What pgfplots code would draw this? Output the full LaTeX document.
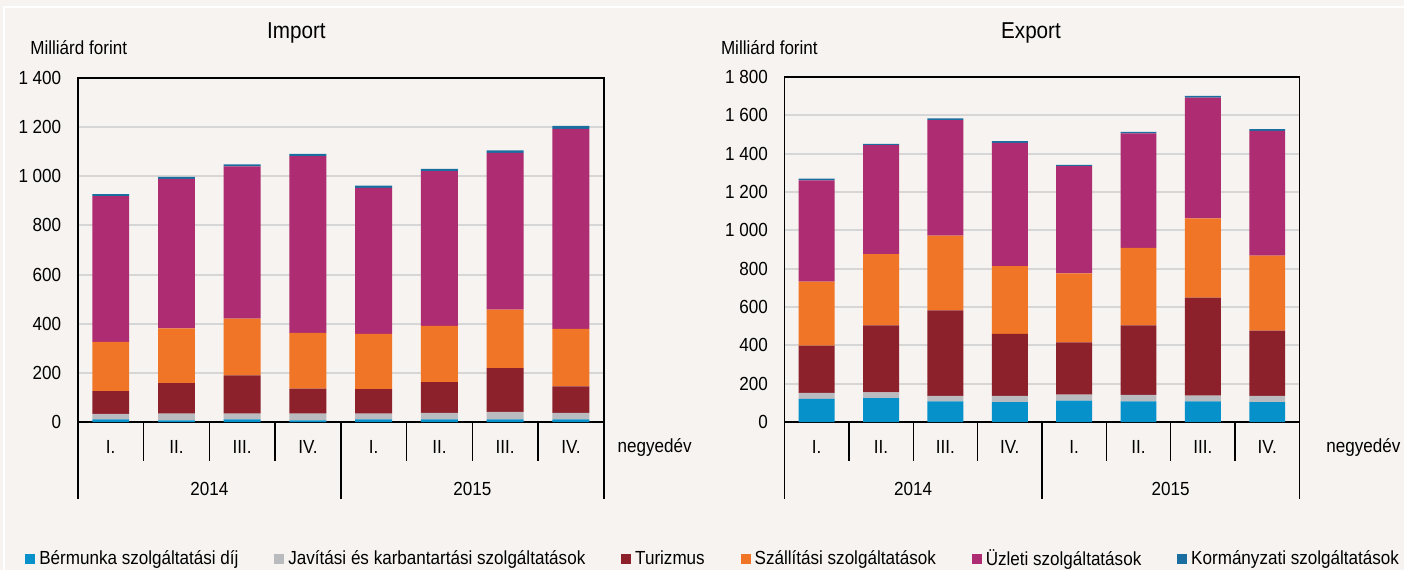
\documentclass[border=0pt]{standalone}
\usepackage{pgfplots}
\pgfplotsset{compat=1.18}
\usepackage{pgfplotstable}
\usepackage{fontspec}
\setmainfont{Liberation Sans}[FakeStretch=0.9]
\newcommand\lf{\fontsize{9.5}{11}\selectfont}
\definecolor{bgc}{HTML}{F6F3F0}
\definecolor{cberm}{HTML}{0791CA}
\definecolor{cjav}{HTML}{B9BBBE}
\definecolor{ctur}{HTML}{8C212C}
\definecolor{cszal}{HTML}{F07526}
\definecolor{cuzl}{HTML}{AE2C71}
\definecolor{ckorm}{HTML}{1B6FA0}
\definecolor{gridc}{HTML}{D6D6D6}

\pgfplotstableread{
x berm jav tur szal uzl korm
1 11 23 92 201 592 8
2 7 28 124 222 608 8
3 11 24 155 231 619 8
4 7 28 101 227 719 9
5 11 24 99 225 594 9
6 11 27 125 229 629 9
7 11 31 178 238 637 10
8 11 27 108 233 814 12
}\importdata

\pgfplotstableread{
x berm jav tur szal uzl korm
1 121 32 246 333 528 9
2 125 31 349 371 568 7
3 108 29 446 389 602 10
4 104 33 323 354 642 9
5 113 31 272 360 559 6
6 108 34 363 403 598 7
7 108 31 510 413 630 9
8 104 33 340 391 650 9
}\exportdata

\pgfplotsset{
  mybars/.style={
    scale only axis,
    anchor=south west,
    ybar stacked,
    ymin=0,
    xmin=0.5, xmax=8.5,
    xtick={1,...,8},
    xticklabels={I.,II.,III.,IV.,I.,II.,III.,IV.},
    major tick length=0pt,
    xticklabel style={font=\lf, anchor=center, yshift=-12.5pt},
    yticklabel style={font=\lf, xshift=-4.8pt},
    /pgf/number format/assume math mode=true,
    /pgf/number format/1000 sep={\ },
    ymajorgrids,
    grid style={gridc, line width=1pt},
    axis line style={black, line width=0.7pt},
    axis background/.style={fill=bgc},
    clip=false,
  },
}

\begin{document}
\begin{tikzpicture}[x=1pt,y=1pt]
\fill[bgc] (0,0) rectangle (703.5,285.5);
\draw[white, line width=1pt] (2,0) -- (2,282) -- (703.5,282);

% titles
\node[font=\fontsize{11.5}{13}\selectfont] at (148.5,269) {Import};
\node[font=\fontsize{11.5}{13}\selectfont] at (516.5,269) {Export};
\node[font=\lf, anchor=west, inner sep=0pt] at (15,261.5) {Milliárd forint};
\node[font=\lf, anchor=west, inner sep=0pt] at (361,261.5) {Milliárd forint};
\node[font=\lf] at (328,61.5) {negyedév};
\node[font=\lf] at (683,61.5) {negyedév};

\begin{axis}[mybars,
  at={(39pt,74pt)}, width=263.5pt, height=172.5pt,
  bar width=18.5pt,
  ymax=1400, ytick={0,200,...,1400},
  legend columns=6,
  legend style={at={(-0.1006,-0.397)}, anchor=west, draw=none, fill=none,
    font=\lf, inner sep=0pt,
    /tikz/every even column/.append style={column sep=16pt}},
  legend image code/.code={\fill[#1] (0pt,-2.4pt) rectangle (5pt,2.6pt);},
]
\addplot[fill=cberm, draw=none] table[x=x,y=berm]{\importdata};
\addplot[fill=cjav, draw=none] table[x=x,y=jav]{\importdata};
\addplot[fill=ctur, draw=none] table[x=x,y=tur]{\importdata};
\addplot[fill=cszal, draw=none] table[x=x,y=szal]{\importdata};
\addplot[fill=cuzl, draw=none] table[x=x,y=uzl]{\importdata};
\addplot[fill=ckorm, draw=none] table[x=x,y=korm]{\importdata};
\legend{Bérmunka szolgáltatási díj, Javítási és karbantartási szolgáltatások, Turizmus, Szállítási szolgáltatások, Üzleti szolgáltatások, Kormányzati szolgáltatások}
\pgfplotsinvokeforeach{1.5,2.5,3.5,5.5,6.5,7.5}{
  \draw[black, line width=0.7pt] (axis cs:#1,0) -- ++(0pt,-19.5pt);
}
\pgfplotsinvokeforeach{0.5,4.5,8.5}{
  \draw[black, line width=0.7pt] (axis cs:#1,0) -- ++(0pt,-38.5pt);
}
\node[font=\lf] at ([yshift=-33.5pt]axis cs:2.5,0) {2014};
\node[font=\lf] at ([yshift=-33.5pt]axis cs:6.5,0) {2015};
\end{axis}

\begin{axis}[mybars,
  at={(393pt,74pt)}, width=258pt, height=173pt,
  bar width=18pt,
  ymax=1800, ytick={0,200,...,1800},
]
\addplot[fill=cberm, draw=none] table[x=x,y=berm]{\exportdata};
\addplot[fill=cjav, draw=none] table[x=x,y=jav]{\exportdata};
\addplot[fill=ctur, draw=none] table[x=x,y=tur]{\exportdata};
\addplot[fill=cszal, draw=none] table[x=x,y=szal]{\exportdata};
\addplot[fill=cuzl, draw=none] table[x=x,y=uzl]{\exportdata};
\addplot[fill=ckorm, draw=none] table[x=x,y=korm]{\exportdata};
\pgfplotsinvokeforeach{1.5,2.5,3.5,5.5,6.5,7.5}{
  \draw[black, line width=0.7pt] (axis cs:#1,0) -- ++(0pt,-19.5pt);
}
\pgfplotsinvokeforeach{0.5,4.5,8.5}{
  \draw[black, line width=0.7pt] (axis cs:#1,0) -- ++(0pt,-38.5pt);
}
\node[font=\lf] at ([yshift=-33.5pt]axis cs:2.5,0) {2014};
\node[font=\lf] at ([yshift=-33.5pt]axis cs:6.5,0) {2015};
\end{axis}
\end{tikzpicture}
\end{document}
